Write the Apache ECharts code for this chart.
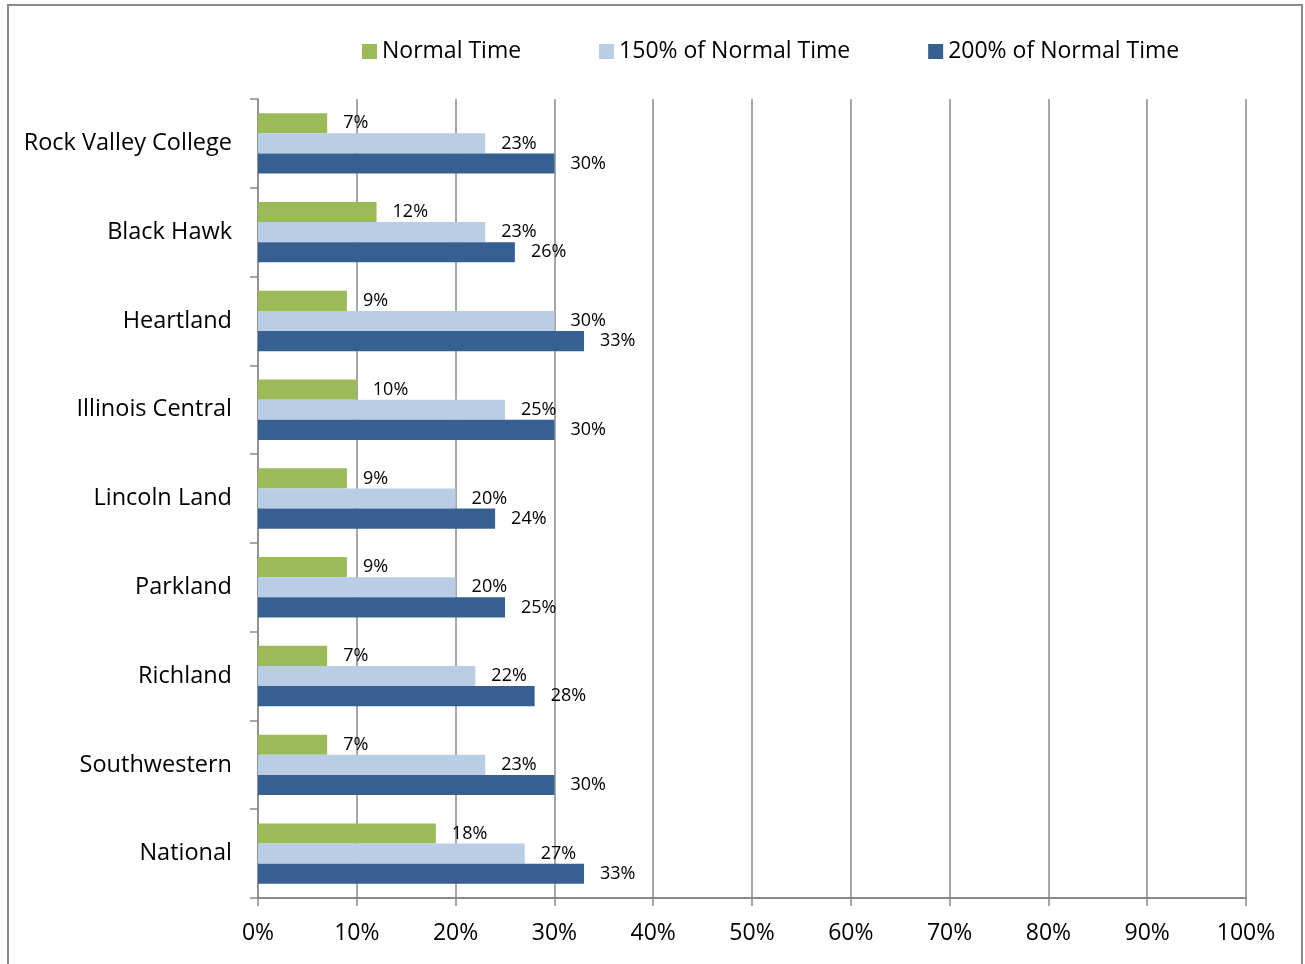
<!DOCTYPE html>
<html>
<head>
<meta charset="utf-8">
<script src="https://cdn.jsdelivr.net/npm/echarts@6/dist/echarts.min.js"></script>
<style>
  html, body { margin: 0; padding: 0; background: #fff; }
  #grafico { width: 1305px; height: 964px; }
</style>
</head>
<body>
<div id="grafico"></div>
<script>
// datos
const colegios = ['Rock Valley College', 'Black Hawk', 'Heartland', 'Illinois Central',
  'Lincoln Land', 'Parkland', 'Richland', 'Southwestern', 'National'];
const tiempoNormal = [7, 12, 9, 10, 9, 9, 7, 7, 18];
const tiempo150 = [23, 23, 30, 25, 20, 20, 22, 23, 27];
const tiempo200 = [30, 26, 33, 30, 24, 25, 28, 30, 33];
const nombresSeries = ['Normal Time', '150% of Normal Time', '200% of Normal Time'];

const fuente = '"Open Sans", Lato, sans-serif';
const miGrafico = echarts.init(document.getElementById('grafico'));

const etiqueta = {
  show: true,
  position: 'right',
  distance: 16,
  formatter: '{c}%',
  fontFamily: fuente,
  fontSize: 18,
  color: '#000'
};

const opciones = {
  animation: false,
  backgroundColor: '#fff',
  graphic: [
    {
      type: 'rect',
      shape: { x: 8, y: 5, width: 1294, height: 970 },
      style: { fill: 'none', stroke: '#8a8a8a', lineWidth: 2 }
    }
  ],
  legend: {
    data: nombresSeries,
    top: 35,
    left: 357,
    itemWidth: 15,
    itemHeight: 15,
    itemGap: 78,
    icon: 'rect',
    textStyle: { fontFamily: fuente, fontSize: 23, color: '#000' }
  },
  grid: { left: 258, right: 59, top: 99, bottom: 66 },
  xAxis: {
    type: 'value',
    min: 0,
    max: 100,
    interval: 10,
    axisLine: { show: true, lineStyle: { color: '#8a8a8a', width: 2 } },
    axisTick: { show: true, length: 8, lineStyle: { color: '#8a8a8a', width: 1.5 } },
    axisLabel: { formatter: '{value}%', fontFamily: fuente, fontSize: 23, color: '#000', margin: 24 },
    splitLine: { show: true, lineStyle: { color: '#8a8a8a', width: 1.5 } }
  },
  yAxis: {
    type: 'category',
    data: colegios,
    inverse: true,
    axisLine: { show: true, lineStyle: { color: '#8a8a8a', width: 1.5 } },
    axisTick: { show: true, length: 8, lineStyle: { color: '#8a8a8a', width: 1.5 } },
    axisLabel: { fontFamily: fuente, fontSize: 23.5, color: '#000', margin: 26 }
  },
  series: [
    {
      name: nombresSeries[0], type: 'bar', data: tiempoNormal,
      itemStyle: { color: '#9BBB59' }, barGap: '0%', barCategoryGap: '32%', label: etiqueta
    },
    {
      name: nombresSeries[1], type: 'bar', data: tiempo150,
      itemStyle: { color: '#B9CDE5' }, barGap: '0%', barCategoryGap: '32%', label: etiqueta
    },
    {
      name: nombresSeries[2], type: 'bar', data: tiempo200,
      itemStyle: { color: '#366092' }, barGap: '0%', barCategoryGap: '32%', label: etiqueta
    }
  ]
};

miGrafico.setOption(opciones);
</script>
</body>
</html>
